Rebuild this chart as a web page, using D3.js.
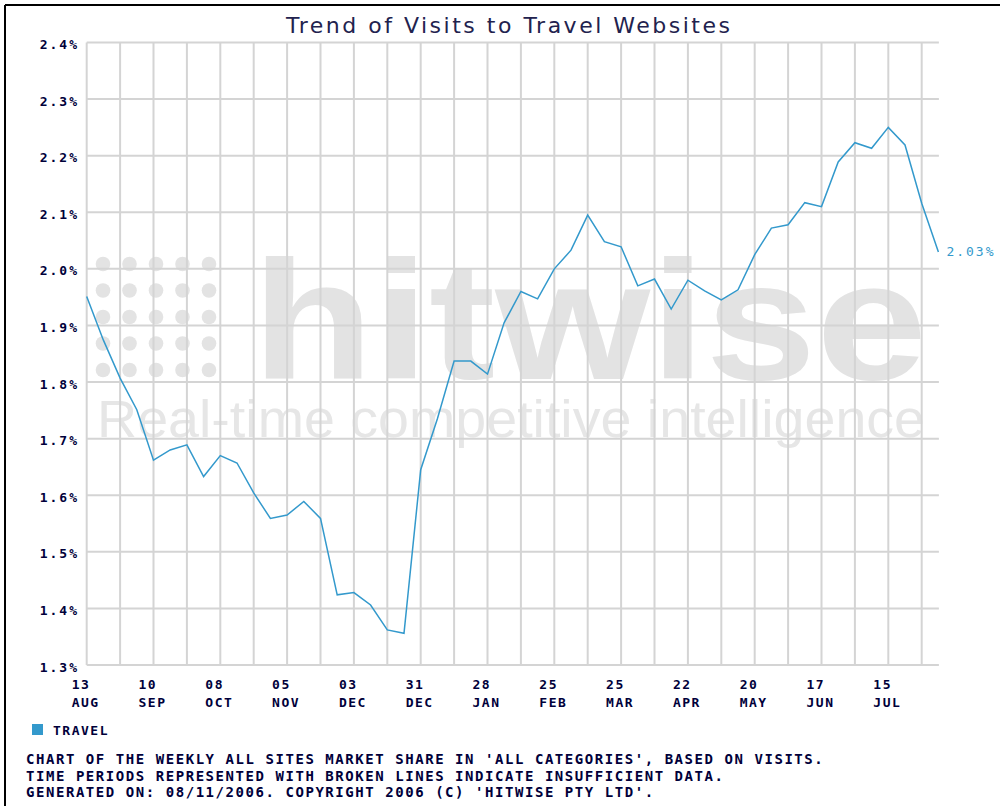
<!DOCTYPE html>
<html lang="en">
<head>
<meta charset="utf-8">
<title>Trend of Visits to Travel Websites</title>
<script src="https://d3js.org/d3.v7.min.js"></script>
<style>
  body { margin: 0; background: #fff; }
  svg { display: block; }
  .mono { font-family: "DejaVu Sans Mono", monospace; font-weight: bold; fill: #00003a; }
</style>
</head>
<body>
<div id="chart"></div>
<script>
// weekly market share (%), starting week of 13 Aug 2006
var startDate = new Date(2006, 7, 13);
var travelValues = [
  1.951, 1.874, 1.807, 1.751, 1.662, 1.680, 1.689, 1.633, 1.670, 1.657,
  1.604, 1.559, 1.565, 1.589, 1.559, 1.424, 1.428, 1.406, 1.362, 1.356,
  1.645, 1.735, 1.837, 1.837, 1.814, 1.905, 1.960, 1.947, 2.000, 2.033,
  2.095, 2.048, 2.039, 1.970, 1.982, 1.929, 1.980, 1.961, 1.945, 1.963,
  2.025, 2.072, 2.078, 2.117, 2.110, 2.189, 2.223, 2.213, 2.250, 2.219,
  2.116, 2.030
];
var yTicks = [1.3, 1.4, 1.5, 1.6, 1.7, 1.8, 1.9, 2.0, 2.1, 2.2, 2.3, 2.4];
var xTickDays = ["13", "10", "08", "05", "03", "31", "28", "25", "25", "22", "20", "17", "15"];
var xTickMonths = ["AUG", "SEP", "OCT", "NOV", "DEC", "DEC", "JAN", "FEB", "MAR", "APR", "MAY", "JUN", "JUL"];
var seriesName = "TRAVEL";
var lastLabel = "2.03%";
var footerLines = [
  "CHART OF THE WEEKLY ALL SITES MARKET SHARE IN 'ALL CATEGORIES', BASED ON VISITS.",
  "TIME PERIODS REPRESENTED WITH BROKEN LINES INDICATE INSUFFICIENT DATA.",
  "GENERATED ON: 08/11/2006. COPYRIGHT 2006 (C) 'HITWISE PTY LTD'."
];

var W = 1000, H = 806;
var lineColor = "#3399cc";

var data = travelValues.map(function (v, i) {
  return { date: d3.timeWeek.offset(startDate, i), value: v };
});
var endDate = data[data.length - 1].date;

var svg = d3.select("#chart").append("svg")
  .attr("width", W).attr("height", H);

// frame (left + top only, rest is cropped)
svg.append("line").attr("x1", 5).attr("x2", W).attr("y1", 5).attr("y2", 5)
  .attr("stroke", "#000").attr("stroke-width", 2);
svg.append("line").attr("x1", 5).attr("x2", 5).attr("y1", 5).attr("y2", H)
  .attr("stroke", "#000").attr("stroke-width", 2);

var x = d3.scaleTime().domain([startDate, endDate]).range([86.7, 938.4]);
var y = d3.scaleLinear().domain([1.3, 2.4]).range([665, 42.5]);

// title
svg.append("text")
  .attr("x", 508).attr("y", 33)
  .attr("text-anchor", "middle")
  .style("font-family", "'DejaVu Sans', Verdana, sans-serif")
  .style("font-size", "22px")
  .style("fill", "#22224e")
  .attr("textLength", 444)
  .text("Trend of Visits to Travel Websites");

// watermark
var wm = svg.append("g").attr("fill", "#e3e3e3");
var dotX = d3.scaleLinear().domain([0, 4]).range([103, 209]);
var dotY = d3.scaleLinear().domain([0, 4]).range([264, 370]);
d3.range(25).forEach(function (k) {
  wm.append("circle").attr("cx", dotX(k % 5)).attr("cy", dotY(Math.floor(k / 5))).attr("r", 7.3);
});
wm.append("text")
  .attr("x", 252).attr("y", 379)
  .style("font-family", "'Liberation Sans', Arial, sans-serif")
  .style("font-weight", "bold")
  .style("font-size", "168px")
  .attr("textLength", 675).attr("lengthAdjust", "spacingAndGlyphs")
  .text("hitwise");
wm.append("text")
  .attr("x", 97).attr("y", 437)
  .style("font-family", "'Liberation Sans', Arial, sans-serif")
  .style("font-size", "51px")
  .attr("fill", "#e6e6e6")
  .attr("textLength", 828).attr("lengthAdjust", "spacingAndGlyphs")
  .text("Real-time competitive intelligence");

// grid
var grid = svg.append("g").attr("stroke", "#d4d4d4").attr("stroke-width", 2);
grid.selectAll("line.h").data(yTicks).enter().append("line")
  .attr("x1", x(startDate)).attr("x2", x(endDate) + 0.5)
  .attr("y1", function (d) { return y(d); }).attr("y2", function (d) { return y(d); });
var gridDates = data.filter(function (d, i) { return i % 2 === 0; }).map(function (d) { return d.date; });
grid.selectAll("line.v").data(gridDates).enter().append("line")
  .attr("x1", function (d) { return x(d); }).attr("x2", function (d) { return x(d); })
  .attr("y1", y(2.4)).attr("y2", y(1.3));

// y labels
svg.append("g").selectAll("text").data(yTicks).enter().append("text")
  .attr("class", "mono")
  .attr("x", 79).attr("y", function (d) { return y(d) + 2; })
  .attr("dy", "0.35em")
  .attr("text-anchor", "end")
  .style("font-size", "13px")
  .style("letter-spacing", "2px")
  .text(function (d) { return d.toFixed(1) + "%"; });

// x labels every 4 weeks
var labelDates = data.filter(function (d, i) { return i % 4 === 0; }).map(function (d) { return d.date; });
var xl = svg.append("g").selectAll("g").data(labelDates).enter().append("g")
  .attr("transform", function (d) { return "translate(" + (x(d) - 15) + ",0)"; });
xl.append("text").attr("class", "mono").attr("y", 689)
  .style("font-size", "13px").style("letter-spacing", "1.5px")
  .text(function (d, i) { return xTickDays[i]; });
xl.append("text").attr("class", "mono").attr("y", 707)
  .style("font-size", "13px").style("letter-spacing", "1.5px")
  .text(function (d, i) { return xTickMonths[i]; });

// line
var line = d3.line()
  .x(function (d) { return x(d.date); })
  .y(function (d) { return y(d.value); });
svg.append("path").datum(data)
  .attr("fill", "none")
  .attr("stroke", lineColor)
  .attr("stroke-width", 1.5)
  .attr("d", line);

// last value label
var last = data[data.length - 1];
svg.append("text")
  .attr("x", x(last.date) + 8).attr("y", y(last.value))
  .attr("dy", "0.35em")
  .style("font-family", "'DejaVu Sans Mono', monospace")
  .style("font-size", "13px")
  .style("letter-spacing", "2px")
  .style("fill", lineColor)
  .text(lastLabel);

// legend
svg.append("rect").attr("x", 32).attr("y", 724).attr("width", 11).attr("height", 11)
  .attr("fill", lineColor);
svg.append("text").attr("class", "mono").attr("x", 53).attr("y", 735)
  .style("font-size", "13px").style("letter-spacing", "1.5px")
  .text(seriesName);

// footer
svg.append("g").selectAll("text").data(footerLines).enter().append("text")
  .attr("class", "mono")
  .attr("x", 26).attr("y", function (d, i) { return 764 + i * 16.5; })
  .style("font-size", "14px")
  .style("letter-spacing", "1.55px")
  .text(function (d) { return d; });
</script>
</body>
</html>
